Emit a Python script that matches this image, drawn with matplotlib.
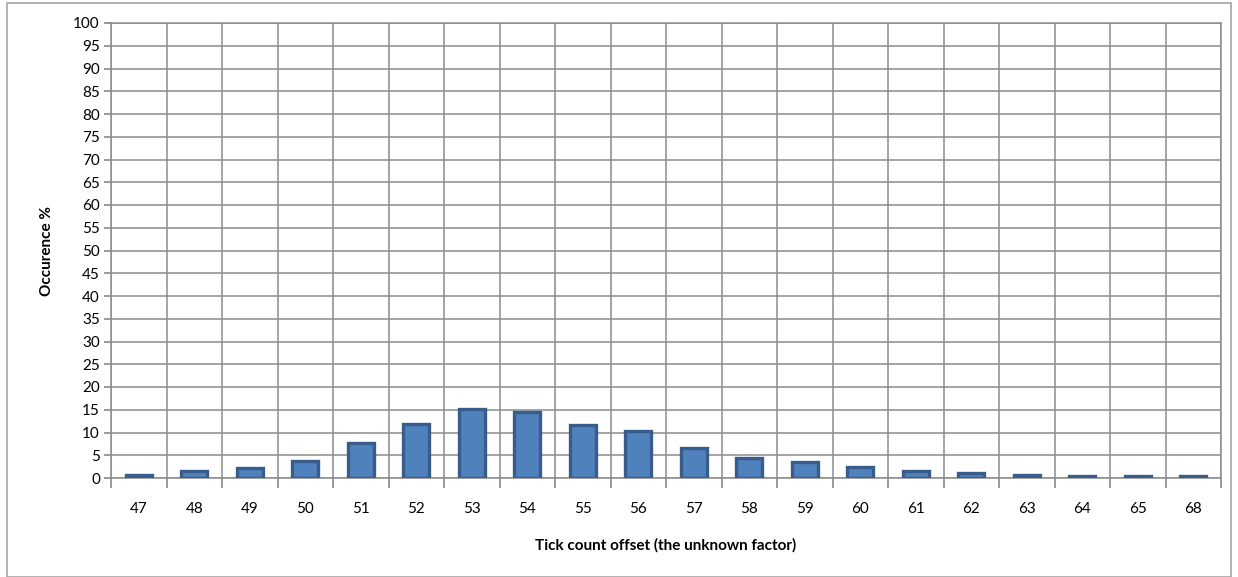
import numpy as np
import matplotlib.pyplot as plt
from matplotlib.patches import Rectangle

# tick count offset values and how often each was seen (%)
offsets = ["47", "48", "49", "50", "51", "52", "53", "54", "55", "56", "57",
           "58", "59", "60", "61", "62", "63", "64", "65", "68"]
occurence = [0.6, 1.5, 2.1, 3.7, 7.6, 11.9, 15.1, 14.6, 11.6, 10.3, 6.6,
             4.4, 3.6, 2.4, 1.6, 1.0, 0.6, 0.4, 0.4, 0.4]

plt.rcParams['font.family'] = ['Lato', 'DejaVu Sans']

fig = plt.figure(figsize=(12.38, 5.77), dpi=100)
ax = fig.add_axes([111/1238, 1 - 478/577, (1221 - 111)/1238, (478 - 23)/577])

# outer chart frame
fig.patches.append(Rectangle((7/1238, 0), (1231 - 7)/1238, 1 - 3/577,
                             transform=fig.transFigure, fill=False,
                             edgecolor="#a6a6a6", linewidth=1.2))

x = np.arange(len(offsets))
ax.bar(x, occurence, width=0.46, color="#4F81BD", edgecolor="#385D8A",
       linewidth=2.4, zorder=3)

ax.set_xlim(-0.5, len(offsets) - 0.5)
ax.set_ylim(0, 100)
ax.set_yticks(np.arange(0, 101, 5))

# category boundaries carry the tick marks and the vertical grid
ax.set_xticks(np.arange(-0.5, len(offsets), 1.0))
ax.set_xticklabels([])
ax.set_xticks(x, minor=True)
ax.set_xticklabels(offsets, minor=True)
ax.tick_params(axis="x", which="minor", length=0, pad=17, labelsize=11)
ax.tick_params(axis="x", which="major", length=7, width=1.2, color="#888888")
ax.tick_params(axis="y", length=5, width=1.2, color="#888888", labelsize=11, pad=3)

ax.grid(True, which="major", color="#8c8c8c", linewidth=1.1, zorder=0)
ax.set_axisbelow(True)
for s in ax.spines.values():
    s.set_color("#8c8c8c")
    s.set_linewidth(1.1)

ax.set_ylabel("Occurence %", fontsize=11, fontweight="bold", labelpad=14)
ax.set_xlabel("Tick count offset (the unknown factor)", fontsize=11,
              fontweight="bold", labelpad=16)

fig.savefig("out.png", dpi=100)
